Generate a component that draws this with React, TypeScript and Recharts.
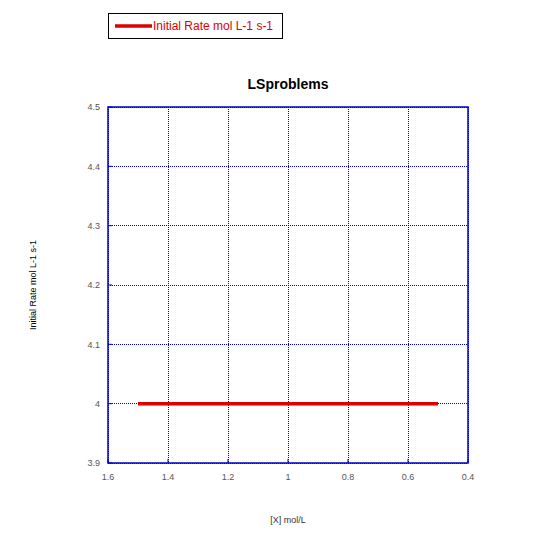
import { LineChart, Line, XAxis, YAxis, CartesianGrid, ReferenceArea, Legend } from 'recharts'

const seriesName = 'Initial Rate mol L-1 s-1'
const concentration = [1.5, 0.5]
const initialRate = [4, 4]
const xTicks = [0.4, 0.6, 0.8, 1, 1.2, 1.4, 1.6]
const yTicks = [3.9, 4, 4.1, 4.2, 4.3, 4.4, 4.5]

const data = concentration.map((x, i) => ({ x, rate: initialRate[i] }))

const BLUE = '#0000cc'
const RED = '#dd0000'
const tickStyle = { fill: '#555', fontSize: 9 }

function LegendBox({ payload }: any) {
  return (
    <div>
      {(payload || []).map((p: any) => (
        <div
          key={p.value}
          style={{
            boxSizing: 'border-box',
            width: 175,
            height: 26,
            border: '1.5px solid #000',
            background: '#fff',
            display: 'flex',
            alignItems: 'center',
            paddingLeft: 6,
          }}
        >
          <svg width={37} height={4} style={{ display: 'block' }}>
            <line x1={0} y1={2} x2={37} y2={2} stroke={p.color} strokeWidth={3.5} />
          </svg>
          <span style={{ color: RED, fontSize: 12, marginLeft: 1, whiteSpace: 'nowrap' }}>{p.value}</span>
        </div>
      ))}
    </div>
  )
}

export default function App() {
  return (
    <div
      style={{
        position: 'absolute',
        left: 0,
        top: 0,
        width: 540,
        height: 534,
        background: '#fff',
        fontFamily: '"Liberation Sans", Arial, sans-serif',
      }}
    >
      <div
        style={{
          position: 'absolute',
          left: 108,
          width: 360,
          top: 76,
          lineHeight: '16px',
          textAlign: 'center',
          fontSize: 14,
          fontWeight: 'bold',
          color: '#000',
        }}
      >
        LSproblems
      </div>
      <LineChart width={540} height={534} data={data} margin={{ top: 107, right: 72, bottom: 11, left: 33 }}>
        <CartesianGrid stroke={BLUE} strokeDasharray="1 1" shapeRendering="crispEdges" />
        <XAxis
          type="number"
          dataKey="x"
          domain={[0.4, 1.6]}
          ticks={xTicks}
          reversed
          allowDataOverflow
          axisLine={false}
          tickSize={-4}
          tickMargin={15}
          tickLine={{ stroke: BLUE }}
          tick={tickStyle}
          height={60}
          label={{ value: '[X] mol/L', position: 'insideBottom', offset: 0, fill: '#333', fontSize: 9 }}
        />
        <YAxis
          type="number"
          domain={[3.9, 4.5]}
          ticks={yTicks}
          allowDataOverflow
          axisLine={false}
          tickSize={-4}
          tickMargin={12}
          tickLine={{ stroke: BLUE }}
          tick={tickStyle}
          width={75}
          label={{
            value: seriesName,
            angle: -90,
            position: 'insideLeft',
            offset: 0,
            fill: '#000',
            fontSize: 9,
            style: { textAnchor: 'middle' },
          }}
        />
        <ReferenceArea x1={0.4} x2={1.6} y1={3.9} y2={4.5} fill="none" stroke={BLUE} strokeWidth={1.5} />
        <Legend
          layout="horizontal"
          verticalAlign="middle"
          align="center"
          content={<LegendBox />}
          wrapperStyle={{ position: 'absolute', top: 13, left: 108, width: 'auto' }}
        />
        <Line
          type="linear"
          dataKey="rate"
          name={seriesName}
          stroke={RED}
          strokeWidth={3.5}
          dot={false}
          isAnimationActive={false}
        />
      </LineChart>
    </div>
  )
}
